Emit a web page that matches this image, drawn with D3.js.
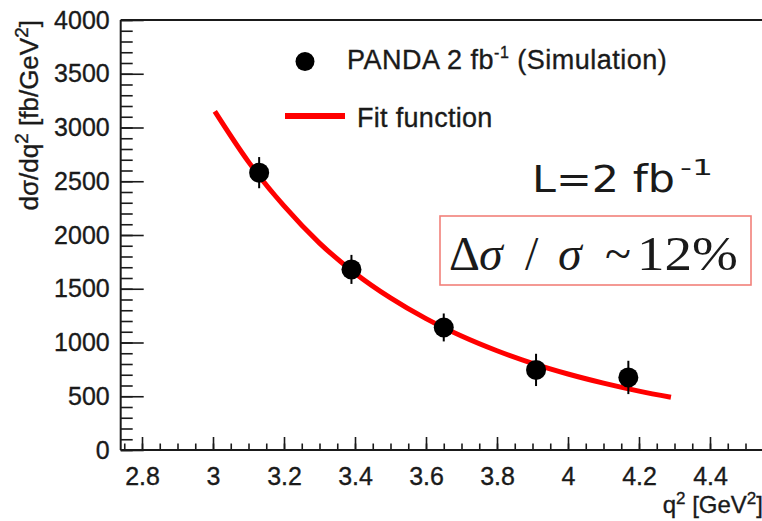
<!DOCTYPE html>
<html>
<head>
<meta charset="utf-8">
<script src="https://cdn.jsdelivr.net/npm/d3@7"></script>
<style>
  html, body { margin: 0; padding: 0; background: #fff; }
  svg { display: block; }
  text { font-family: "Liberation Sans", Arial, sans-serif; fill: #1a1a1a; }
  .thick { stroke: #1a1a1a; stroke-width: 0.35px; }
</style>
</head>
<body>
<svg id="chart" width="762" height="521"></svg>
<script>
// ---- data ----
const qValues      = [3.13, 3.39, 3.65, 3.91, 4.17];
const sigmaValues  = [2580, 1680, 1140, 745, 675];
const sigmaErrors  = [145, 135, 130, 150, 155];

const fitQ     = [3.005, 3.1, 3.2, 3.3, 3.4, 3.5, 3.6, 3.7, 3.8, 3.9, 4.0, 4.1, 4.2, 4.29];
const fitSigma = [3150, 2680, 2270, 1925, 1645, 1415, 1222, 1060, 923, 806, 707, 622, 548, 490];

const xMajorTicks = [2.8, 3.0, 3.2, 3.4, 3.6, 3.8, 4.0, 4.2, 4.4];
const xTickLabels = ["2.8", "3", "3.2", "3.4", "3.6", "3.8", "4", "4.2", "4.4"];
const yMajorTicks = [0, 500, 1000, 1500, 2000, 2500, 3000, 3500, 4000];
const yTickLabels = ["0", "500", "1000", "1500", "2000", "2500", "3000", "3500", "4000"];

const legendLabels = ["PANDA 2 fb", "Fit function"];

// ---- layout ----
const svg = d3.select("#chart");
svg.append("rect").attr("width", 762).attr("height", 521).attr("fill", "#fff");

const x = d3.scaleLinear().domain([2.74, 4.6]).range([120.7, 781]);
const y = d3.scaleLinear().domain([0, 4000]).range([450, 20]);

const axisColor = "#1a1a1a";

// x minor ticks
const xMinor = d3.range(2.75, 4.5751, 0.05).map(v => +v.toFixed(2));
svg.append("g")
  .attr("transform", "translate(0,450)")
  .call(d3.axisBottom(x).tickValues(xMinor).tickSize(-6.5).tickFormat(""))
  .call(g => g.select(".domain").remove())
  .call(g => g.selectAll("line").attr("stroke", axisColor).attr("stroke-width", 1.6));

// x major ticks
svg.append("g")
  .attr("transform", "translate(0,450)")
  .call(d3.axisBottom(x).tickValues(xMajorTicks).tickSize(-13).tickPadding(17)
        .tickFormat((d, i) => xTickLabels[i]))
  .call(g => g.select(".domain").remove())
  .call(g => g.selectAll("line").attr("stroke", axisColor).attr("stroke-width", 1.6))
  .call(g => g.selectAll("text").attr("font-size", 25).attr("fill", axisColor).attr("class", "thick")
        .style("font-family", "'Liberation Sans', Arial, sans-serif"));

// y minor ticks
const yMinor = d3.range(0, 4001, 100);
svg.append("g")
  .attr("transform", "translate(120.7,0)")
  .call(d3.axisLeft(y).tickValues(yMinor).tickSize(-12).tickFormat(""))
  .call(g => g.select(".domain").remove())
  .call(g => g.selectAll("line").attr("stroke", axisColor).attr("stroke-width", 1.6));

// y major ticks
svg.append("g")
  .attr("transform", "translate(120.7,0)")
  .call(d3.axisLeft(y).tickValues(yMajorTicks).tickSize(-23).tickPadding(11)
        .tickFormat((d, i) => yTickLabels[i]))
  .call(g => g.select(".domain").remove())
  .call(g => g.selectAll("line").attr("stroke", axisColor).attr("stroke-width", 1.6))
  .call(g => g.selectAll("text").attr("font-size", 25).attr("fill", axisColor).attr("class", "thick")
        .style("font-family", "'Liberation Sans', Arial, sans-serif"));

// axis lines + top frame
svg.append("line").attr("x1", x(2.74)).attr("x2", 781).attr("y1", y(0)).attr("y2", y(0))
  .attr("stroke", axisColor).attr("stroke-width", 2);
svg.append("line").attr("x1", x(2.74)).attr("x2", x(2.74)).attr("y1", y(0)).attr("y2", y(4000))
  .attr("stroke", axisColor).attr("stroke-width", 2);
svg.append("line").attr("x1", x(2.74)).attr("x2", 781).attr("y1", y(4000)).attr("y2", y(4000))
  .attr("stroke", axisColor).attr("stroke-width", 2);

// axis titles
const yt = svg.append("text")
  .attr("transform", "translate(38,20) rotate(-90)")
  .attr("text-anchor", "end")
  .attr("font-size", 26)
  .attr("class", "thick")
  .attr("fill", axisColor);
yt.append("tspan").text("dσ/dq");
yt.append("tspan").attr("dy", -10).attr("font-size", 19).text("2");
yt.append("tspan").attr("dy", 10).text(" [fb/GeV");
yt.append("tspan").attr("dy", -10).attr("font-size", 19).text("2");
yt.append("tspan").attr("dy", 10).text("]");

const xt = svg.append("text")
  .attr("x", 763).attr("y", 513)
  .attr("text-anchor", "end")
  .attr("font-size", 24)
  .attr("class", "thick")
  .attr("fill", axisColor);
xt.append("tspan").text("q");
xt.append("tspan").attr("dy", -9).attr("font-size", 17).text("2");
xt.append("tspan").attr("dy", 9).text(" [GeV");
xt.append("tspan").attr("dy", -9).attr("font-size", 17).text("2");
xt.append("tspan").attr("dy", 9).text("]");

// fit curve
const fitData = fitQ.map((q, i) => [q, fitSigma[i]]);
svg.append("path")
  .datum(fitData)
  .attr("fill", "none")
  .attr("stroke", "#ff0000")
  .attr("stroke-width", 5)
  .attr("stroke-linecap", "butt")
  .attr("d", d3.line().x(d => x(d[0])).y(d => y(d[1])).curve(d3.curveMonotoneX));

// data points with error bars
const pts = qValues.map((q, i) => ({ q, s: sigmaValues[i], e: sigmaErrors[i] }));
const pg = svg.append("g");
pg.selectAll("line.err").data(pts).join("line")
  .attr("class", "err")
  .attr("x1", d => x(d.q)).attr("x2", d => x(d.q))
  .attr("y1", d => y(d.s - d.e)).attr("y2", d => y(d.s + d.e))
  .attr("stroke", "#000").attr("stroke-width", 2);
pg.selectAll("circle").data(pts).join("circle")
  .attr("cx", d => x(d.q)).attr("cy", d => y(d.s)).attr("r", 10)
  .attr("fill", "#000");

// legend
svg.append("circle").attr("cx", 305).attr("cy", 61.5).attr("r", 9.5).attr("fill", "#000");
const l1 = svg.append("text").attr("x", 347).attr("y", 69).attr("font-size", 27)
  .style("letter-spacing", "0.5px")
  .attr("class", "thick").attr("fill", axisColor);
l1.append("tspan").text(legendLabels[0]);
l1.append("tspan").attr("dy", -11).attr("font-size", 16).text("-1");
l1.append("tspan").attr("dy", 11).text(" (Simulation)");
svg.append("line").attr("x1", 285).attr("x2", 345).attr("y1", 116).attr("y2", 116)
  .attr("stroke", "#ff0000").attr("stroke-width", 6);
svg.append("text").attr("x", 357).attr("y", 127).attr("font-size", 27)
  .style("letter-spacing", "0.3px")
  .attr("class", "thick").attr("fill", axisColor)
  .text(legendLabels[1]);

// luminosity annotation
svg.append("text").attr("x", 532).attr("y", 192)
  .attr("font-size", 37).attr("textLength", 143).attr("lengthAdjust", "spacingAndGlyphs")
  .style("font-family", "'DejaVu Sans', sans-serif").attr("fill", "#111")
  .text("L=2 fb");
svg.append("text").attr("x", 680).attr("y", 175)
  .attr("font-size", 21).attr("textLength", 33).attr("lengthAdjust", "spacingAndGlyphs")
  .style("font-family", "'DejaVu Sans', sans-serif").attr("fill", "#111")
  .text("-1");

// resolution box
svg.append("rect").attr("x", 440).attr("y", 216).attr("width", 311).attr("height", 69)
  .attr("fill", "none").attr("stroke", "#f2807a").attr("stroke-width", 1.6);
const mathParts = [
  { t: "Δ",  x: 449, it: false, w: null },
  { t: "σ",  x: 479, it: true,  w: null },
  { t: "/",  x: 525, it: false, w: null },
  { t: "σ",  x: 558, it: true,  w: null },
  { t: "~",  x: 605, it: false, w: null },
  { t: "12%", x: 637, it: false, w: 101 }
];
svg.append("g").selectAll("text").data(mathParts).join("text")
  .attr("x", d => d.x).attr("y", 270)
  .attr("font-size", 48)
  .attr("font-style", d => d.it ? "italic" : "normal")
  .attr("textLength", d => d.w)
  .attr("lengthAdjust", "spacingAndGlyphs")
  .style("font-family", "'Liberation Serif', 'Times New Roman', serif")
  .attr("fill", "#000")
  .text(d => d.t);
</script>
</body>
</html>
